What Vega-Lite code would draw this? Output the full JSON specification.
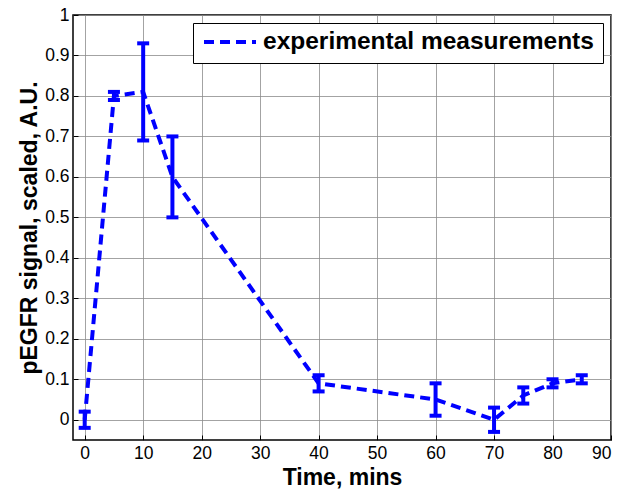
{
  "$schema": "https://vega.github.io/schema/vega-lite/v6.json",
  "width": 538,
  "height": 425,
  "autosize": {"type": "none"},
  "padding": {"left": 73, "top": 15, "right": 8, "bottom": 53},
  "background": "white",
  "config": {
    "font": "Liberation Sans",
    "view": {"stroke": "black", "strokeWidth": 1.5},
    "axis": {
      "labelFont": "Liberation Sans",
      "labelFontSize": 17.5,
      "labelColor": "black",
      "titleFont": "Liberation Sans",
      "titleFontSize": 23,
      "titleFontWeight": "bold",
      "titleColor": "black",
      "grid": true,
      "gridColor": "#8c8c8c",
      "gridWidth": 0.8,
      "domain": false,
      "ticks": true,
      "tickColor": "black",
      "tickSize": -5,
      "labelPadding": 9
    }
  },
  "data": {
    "values": [
      {"t": 0, "y": 0.0, "lo": -0.02, "hi": 0.02, "series": "experimental measurements"},
      {"t": 5, "y": 0.80, "lo": 0.79, "hi": 0.81, "series": "experimental measurements"},
      {"t": 10, "y": 0.81, "lo": 0.69, "hi": 0.93, "series": "experimental measurements"},
      {"t": 15, "y": 0.60, "lo": 0.50, "hi": 0.70, "series": "experimental measurements"},
      {"t": 40, "y": 0.09, "lo": 0.07, "hi": 0.11, "series": "experimental measurements"},
      {"t": 60, "y": 0.05, "lo": 0.01, "hi": 0.09, "series": "experimental measurements"},
      {"t": 70, "y": 0.0, "lo": -0.03, "hi": 0.03, "series": "experimental measurements"},
      {"t": 75, "y": 0.06, "lo": 0.04, "hi": 0.08, "series": "experimental measurements"},
      {"t": 80, "y": 0.09, "lo": 0.08, "hi": 0.10, "series": "experimental measurements"},
      {"t": 85, "y": 0.10, "lo": 0.09, "hi": 0.11, "series": "experimental measurements"}
    ]
  },
  "layer": [
    {
      "mark": {"type": "line", "strokeWidth": 4, "strokeDash": [10, 6], "clip": true},
      "encoding": {
        "x": {
          "field": "t", "type": "quantitative",
          "scale": {"domain": [-2, 90], "nice": false, "zero": false},
          "axis": {"values": [0, 10, 20, 30, 40, 50, 60, 70, 80, 90], "title": "Time, mins", "titlePadding": 5}
        },
        "y": {
          "field": "y", "type": "quantitative",
          "scale": {"domain": [-0.05, 1], "nice": false, "zero": false},
          "axis": {"values": [0, 0.1, 0.2, 0.3, 0.4, 0.5, 0.6, 0.7, 0.8, 0.9, 1], "format": "~g", "title": "pEGFR signal, scaled, A.U.", "titlePadding": 3}
        },
        "color": {
          "field": "series", "type": "nominal",
          "scale": {"range": ["#0000ff"]},
          "legend": {
            "title": null,
            "orient": "top-right",
            "offset": 8,
            "strokeColor": "black",
            "fillColor": "white",
            "padding": 9,
            "symbolType": "stroke",
            "symbolSize": 2700,
            "symbolStrokeWidth": 4,
            "symbolDash": [10, 6],
            "clipHeight": 20,
            "labelFont": "Liberation Sans",
            "labelFontSize": 24.5,
            "labelFontWeight": "bold",
            "labelColor": "black",
            "labelOffset": 5,
            "labelLimit": 0
          }
        }
      }
    },
    {
      "mark": {"type": "rule", "strokeWidth": 4, "color": "#0000ff"},
      "encoding": {
        "x": {"field": "t", "type": "quantitative"},
        "y": {"field": "lo", "type": "quantitative"},
        "y2": {"field": "hi"}
      }
    },
    {
      "mark": {"type": "tick", "orient": "horizontal", "size": 12, "thickness": 4, "color": "#0000ff", "opacity": 1},
      "encoding": {
        "x": {"field": "t", "type": "quantitative"},
        "y": {"field": "lo", "type": "quantitative"}
      }
    },
    {
      "mark": {"type": "tick", "orient": "horizontal", "size": 12, "thickness": 4, "color": "#0000ff", "opacity": 1},
      "encoding": {
        "x": {"field": "t", "type": "quantitative"},
        "y": {"field": "hi", "type": "quantitative"}
      }
    }
  ]
}
